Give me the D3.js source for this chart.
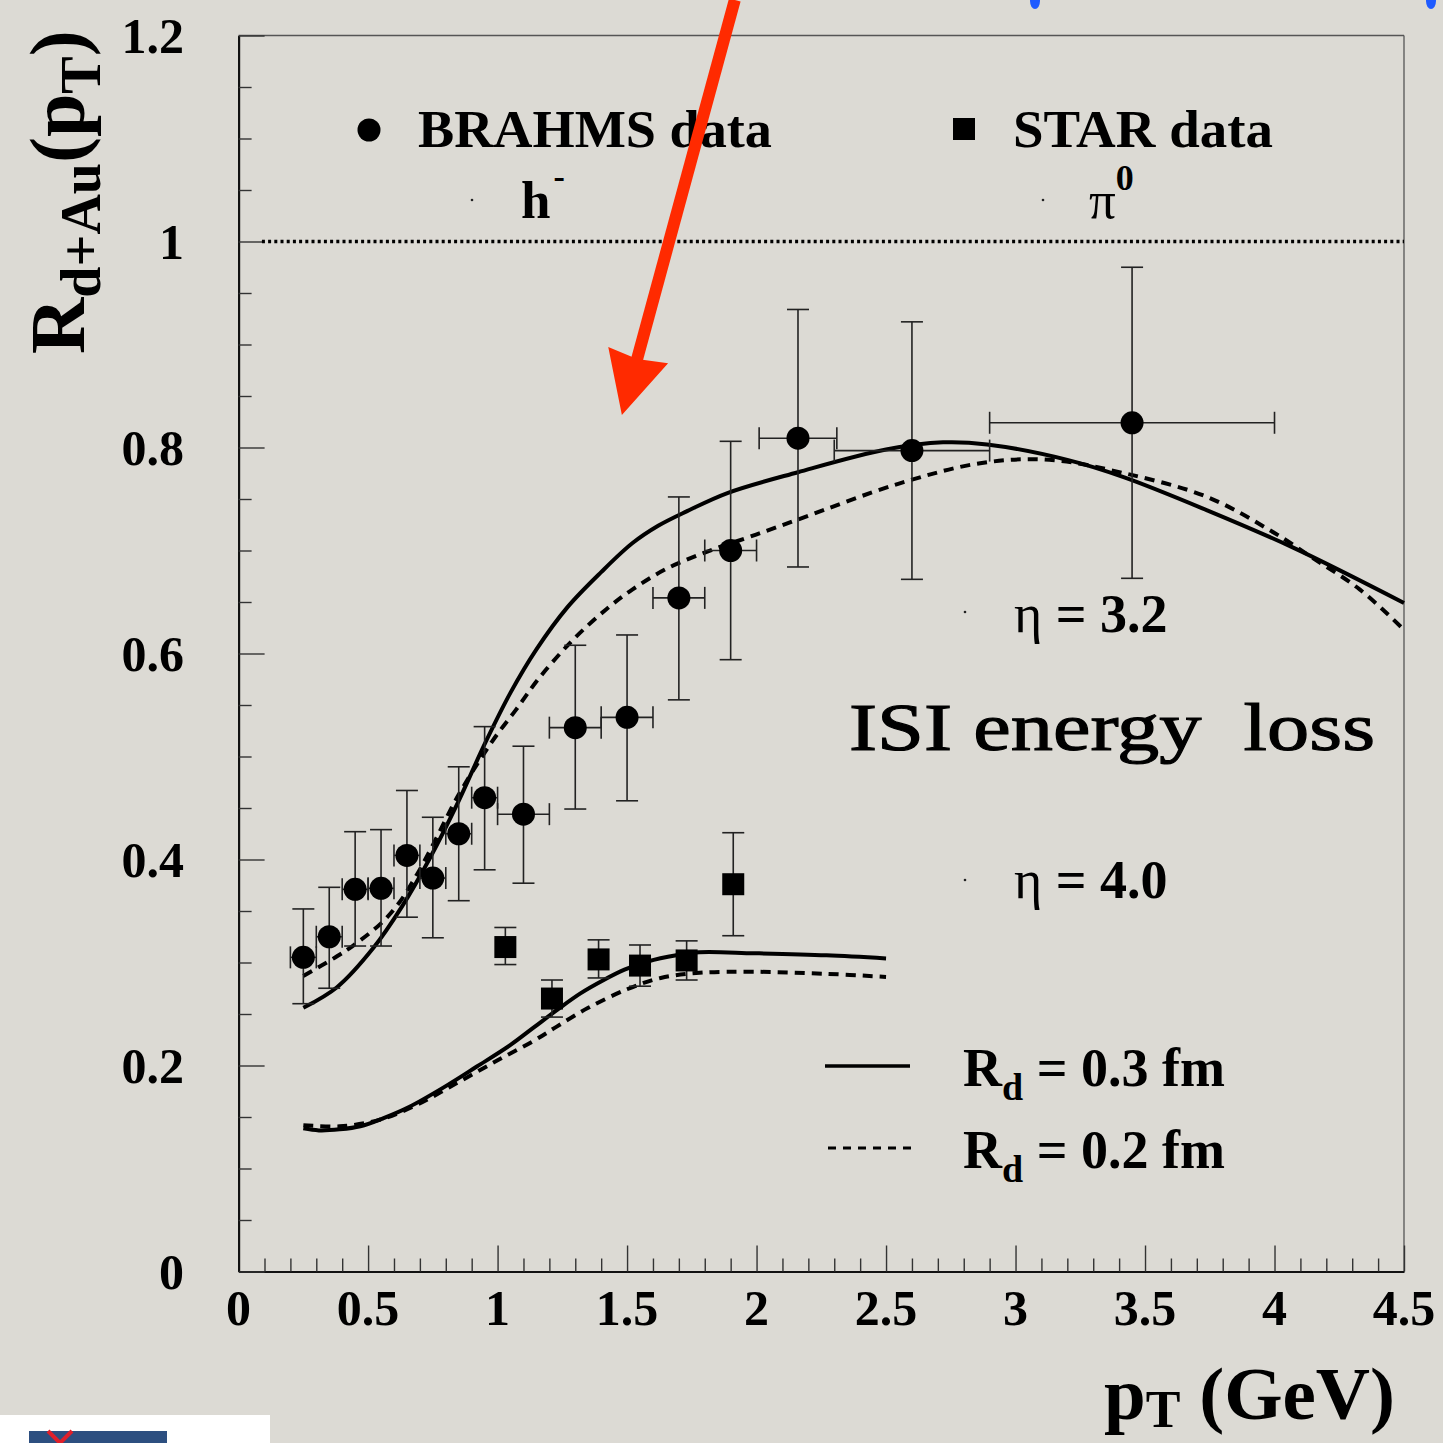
<!DOCTYPE html>
<html><head><meta charset="utf-8">
<script src="https://cdn.jsdelivr.net/npm/d3@7"></script>
<style>html,body{margin:0;padding:0;background:#dcdad4;}svg{display:block;}</style>
</head><body>
<svg id="c" width="1443" height="1443"></svg>
<script>
// ---------- data ----------
const brahmsX   = [0.25,0.35,0.45,0.55,0.65,0.75,0.85,0.95,1.10,1.30,1.50,1.70,1.90,2.16,2.60,3.45];
const brahmsY   = [0.305,0.325,0.371,0.372,0.404,0.382,0.425,0.460,0.444,0.528,0.538,0.654,0.700,0.809,0.797,0.824];
const brahmsYHi = [0.352,0.373,0.427,0.429,0.467,0.441,0.490,0.529,0.510,0.608,0.618,0.752,0.806,0.934,0.922,0.975];
const brahmsYLo = [0.260,0.275,0.316,0.316,0.344,0.324,0.360,0.390,0.377,0.449,0.457,0.555,0.594,0.684,0.672,0.673];
const brahmsXErr= [0.05,0.05,0.05,0.05,0.05,0.05,0.05,0.05,0.10,0.10,0.10,0.10,0.10,0.15,0.30,0.55];

const starX   = [1.03,1.21,1.39,1.55,1.73,1.91];
const starY   = [0.315,0.265,0.303,0.297,0.302,0.376];
const starYHi = [0.334,0.283,0.322,0.317,0.321,0.426];
const starYLo = [0.298,0.247,0.285,0.277,0.283,0.326];

// eta = 3.2, R_d = 0.3 fm (solid) / 0.2 fm (dashed)
const upSolX  = [0.25,0.38,0.52,0.63,0.74,0.85,0.95,1.05,1.15,1.27,1.40,1.52,1.62,1.73,1.89,2.16,2.50,2.72,2.89,3.20,3.42,3.74,4.07,4.50];
const upSolY  = [0.256,0.276,0.314,0.354,0.402,0.457,0.512,0.562,0.604,0.645,0.679,0.707,0.724,0.738,0.756,0.776,0.798,0.805,0.803,0.788,0.771,0.739,0.703,0.649];
const upDashX = [0.25,0.38,0.44,0.55,0.62,0.69,0.75,0.85,0.98,1.07,1.16,1.29,1.42,1.52,1.65,1.81,1.97,2.17,2.55,2.87,3.13,3.42,3.74,4.00,4.14,4.33,4.50];
const upDashY = [0.287,0.306,0.316,0.338,0.358,0.386,0.414,0.463,0.515,0.545,0.576,0.613,0.643,0.662,0.682,0.699,0.713,0.731,0.765,0.785,0.788,0.775,0.752,0.717,0.694,0.662,0.623];
// eta = 4.0
const lowSolX  = [0.25,0.31,0.39,0.47,0.56,0.66,0.80,0.92,1.05,1.14,1.23,1.32,1.41,1.49,1.58,1.69,1.78,1.99,2.27,2.50];
const lowSolY  = [0.139,0.137,0.138,0.141,0.149,0.160,0.180,0.199,0.220,0.237,0.254,0.270,0.283,0.293,0.301,0.307,0.310,0.309,0.307,0.304];
const lowDashX = [0.25,0.39,0.54,0.69,0.85,1.00,1.14,1.23,1.35,1.50,1.63,1.78,1.99,2.27,2.50];
const lowDashY = [0.142,0.141,0.147,0.162,0.184,0.205,0.224,0.238,0.256,0.274,0.285,0.290,0.291,0.289,0.286];

const xTickVals   = [0,0.5,1,1.5,2,2.5,3,3.5,4,4.5];
const xTickLabels = ["0","0.5","1","1.5","2","2.5","3","3.5","4","4.5"];
const yTickVals   = [0,0.2,0.4,0.6,0.8,1.0,1.2];
const yTickLabels = ["0","0.2","0.4","0.6","0.8","1","1.2"];

// ---------- setup ----------
const svg = d3.select("#c");
const FONT = "'Liberation Serif','Times New Roman',serif";
const x = d3.scaleLinear().domain([0,4.5]).range([238.6,1404]);
const y = d3.scaleLinear().domain([0,1.2]).range([1271.5,35.5]);

svg.append("rect").attr("width",1443).attr("height",1443).attr("fill","#dcdad4");

// frame (top/right thin)
svg.append("line").attr("x1",x(0)).attr("x2",x(4.5)).attr("y1",y(1.2)).attr("y2",y(1.2)).attr("stroke","#555").attr("stroke-width",1.3);
svg.append("line").attr("x1",x(4.5)).attr("x2",x(4.5)).attr("y1",y(1.2)).attr("y2",y(0)).attr("stroke","#555").attr("stroke-width",1.3);

// axes
const xAxis = d3.axisBottom(x).tickValues(d3.range(0,4.5001,0.1)).tickSizeInner(-13).tickSizeOuter(0).tickFormat("");
const gx = svg.append("g").attr("transform",`translate(0,${y(0)})`).call(xAxis);
gx.selectAll(".tick line").attr("stroke","#333").attr("stroke-width",1.4)
  .attr("y2",(d)=> (Math.abs(d*2-Math.round(d*2))<1e-6) ? -26 : -13);
gx.select(".domain").attr("stroke","#111").attr("stroke-width",2.2);

const yAxis = d3.axisLeft(y).tickValues(d3.range(0,1.2001,0.05)).tickSizeInner(-13).tickSizeOuter(0).tickFormat("");
const gy = svg.append("g").attr("transform",`translate(${x(0)},0)`).call(yAxis);
gy.selectAll(".tick line").attr("stroke","#333").attr("stroke-width",1.4)
  .attr("x2",(d)=> (Math.abs(d*5-Math.round(d*5))<1e-6) ? 26 : 13);
gy.select(".domain").attr("stroke","#111").attr("stroke-width",2.2);

// tick labels
svg.append("g").selectAll("text").data(xTickVals).join("text")
  .attr("x",d=>x(d)).attr("y",y(0)+53).attr("text-anchor","middle")
  .attr("font-family",FONT).attr("font-weight","bold").attr("font-size",50).attr("fill","#000")
  .text((d,i)=>xTickLabels[i]);
svg.append("g").selectAll("text").data(yTickVals).join("text")
  .attr("x",184).attr("y",d=>y(d)+17).attr("text-anchor","end")
  .attr("font-family",FONT).attr("font-weight","bold").attr("font-size",50).attr("fill","#000")
  .text((d,i)=>yTickLabels[i]);

// dotted line at 1
svg.append("line").attr("x1",x(0.09)).attr("x2",x(4.5)).attr("y1",y(1)).attr("y2",y(1))
  .attr("stroke","#000").attr("stroke-width",3.4).attr("stroke-dasharray","3,3.2");

// curves
const line = d3.line().x(d=>x(d[0])).y(d=>y(d[1])).curve(d3.curveCatmullRom.alpha(0.5));
function curve(xs,ys,dashed){
  svg.append("path").attr("d",line(xs.map((v,i)=>[v,ys[i]])))
    .attr("fill","none").attr("stroke","#000").attr("stroke-width",4)
    .attr("stroke-dasharray",dashed?"10,7":null);
}
curve(upSolX,upSolY,false);
curve(upDashX,upDashY,true);
curve(lowSolX,lowSolY,false);
curve(lowDashX,lowDashY,true);

// error bars
const eb = svg.append("g").attr("stroke","#222").attr("stroke-width",1.6);
brahmsX.forEach((xv,i)=>{
  const cx=x(xv), cy=y(brahmsY[i]);
  eb.append("line").attr("x1",cx).attr("x2",cx).attr("y1",y(brahmsYHi[i])).attr("y2",y(brahmsYLo[i]));
  [brahmsYHi[i],brahmsYLo[i]].forEach(v=>eb.append("line").attr("x1",cx-11).attr("x2",cx+11).attr("y1",y(v)).attr("y2",y(v)));
  const xl=x(xv-brahmsXErr[i]), xr=x(xv+brahmsXErr[i]);
  eb.append("line").attr("x1",xl).attr("x2",xr).attr("y1",cy).attr("y2",cy);
  [xl,xr].forEach(p=>eb.append("line").attr("x1",p).attr("x2",p).attr("y1",cy-11).attr("y2",cy+11));
});
starX.forEach((xv,i)=>{
  const cx=x(xv);
  eb.append("line").attr("x1",cx).attr("x2",cx).attr("y1",y(starYHi[i])).attr("y2",y(starYLo[i]));
  [starYHi[i],starYLo[i]].forEach(v=>eb.append("line").attr("x1",cx-11).attr("x2",cx+11).attr("y1",y(v)).attr("y2",y(v)));
});

// markers
svg.append("g").selectAll("circle").data(brahmsX).join("circle")
  .attr("cx",d=>x(d)).attr("cy",(d,i)=>y(brahmsY[i])).attr("r",11.5).attr("fill","#000");
svg.append("g").selectAll("rect").data(starX).join("rect")
  .attr("x",d=>x(d)-11).attr("y",(d,i)=>y(starY[i])-11).attr("width",22).attr("height",22).attr("fill","#000");

// legend / annotations
function txt(xp,yp,size,weight){
  return svg.append("text").attr("x",xp).attr("y",yp).attr("font-family",FONT)
    .attr("font-size",size).attr("font-weight",weight||"bold").attr("fill","#000");
}
svg.append("circle").attr("cx",369).attr("cy",130).attr("r",11.5).attr("fill","#000");
txt(418,147,53).attr("textLength",354).attr("lengthAdjust","spacingAndGlyphs").text("BRAHMS data");
svg.append("rect").attr("x",953).attr("y",118).attr("width",22).attr("height",22).attr("fill","#000");
txt(1013,147,53).attr("textLength",260).attr("lengthAdjust","spacingAndGlyphs").text("STAR data");

const hm = txt(521,218,53);
hm.append("tspan").text("h");
hm.append("tspan").attr("dx",3).attr("dy",-30).attr("font-size",34).text("-");
const pi0 = txt(1089,218,53,"normal");
pi0.append("tspan").text("π");
pi0.append("tspan").attr("dy",-28).attr("font-size",36).attr("font-weight","bold").text("0");
[[472,200],[1043,200],[965,612],[965,880]].forEach(p=>svg.append("circle").attr("cx",p[0]).attr("cy",p[1]).attr("r",1.3).attr("fill","#222"));

const e1 = txt(1014,632,54);
e1.append("tspan").attr("font-weight","normal").text("η");
e1.append("tspan").text(" = 3.2");
const e2 = txt(1014,898,54);
e2.append("tspan").attr("font-weight","normal").text("η");
e2.append("tspan").text(" = 4.0");

txt(849,750,68,"normal").attr("stroke","#000").attr("stroke-width",1.1)
  .attr("textLength",526).attr("lengthAdjust","spacingAndGlyphs").attr("xml:space","preserve")
  .text("ISI energy  loss");

svg.append("line").attr("x1",825).attr("x2",910).attr("y1",1066).attr("y2",1066).attr("stroke","#000").attr("stroke-width",3.5);
svg.append("line").attr("x1",828).attr("x2",912).attr("y1",1148).attr("y2",1148).attr("stroke","#000").attr("stroke-width",3).attr("stroke-dasharray","8,7");
function rd(yp,val){
  const t = txt(963,yp,54);
  t.append("tspan").text("R");
  t.append("tspan").attr("dy",14).attr("font-size",38).text("d");
  t.append("tspan").attr("dy",-14).text(" = "+val+" fm");
}
rd(1086,"0.3");
rd(1168,"0.2");

// axis titles
const yt = svg.append("text").attr("transform","translate(84,354) rotate(-90)")
  .attr("font-family",FONT).attr("font-weight","bold").attr("font-size",78).attr("fill","#000");
yt.append("tspan").text("R");
yt.append("tspan").attr("dy",16).attr("font-size",56).text("d+Au");
yt.append("tspan").attr("dy",-16).text("(p");
yt.append("tspan").attr("dy",16).attr("font-size",56).text("T");
yt.append("tspan").attr("dy",-16).text(")");

const xt = txt(1104,1419,75);
xt.append("tspan").text("p");
xt.append("tspan").attr("dy",8).attr("font-size",52).text("T");
xt.append("tspan").attr("dy",-8).text(" (GeV)");

// red arrow (in data coordinates)
const aS = [x(1.916), y(1.2345)], aT = [x(1.48), y(0.8316)];
const dx = aT[0]-aS[0], dy = aT[1]-aS[1], L = Math.hypot(dx,dy);
const ux = dx/L, uy = dy/L, nx = -uy, ny = ux;
const hb = [aT[0]-62*ux, aT[1]-62*uy];
svg.append("line").attr("x1",aS[0]).attr("y1",aS[1]).attr("x2",hb[0]+8*ux).attr("y2",hb[1]+8*uy)
  .attr("stroke","#ff2a00").attr("stroke-width",12);
svg.append("path").attr("d",`M${aT[0]},${aT[1]}L${hb[0]+31*nx},${hb[1]+31*ny}L${hb[0]+4*ux},${hb[1]+4*uy}L${hb[0]-31*nx},${hb[1]-31*ny}Z`)
  .attr("fill","#ff2a00");

// blue marks at top edge
[1035,1431].forEach(px=>svg.append("ellipse").attr("cx",px).attr("cy",1).attr("rx",5).attr("ry",8).attr("fill","#1f5bff"));

// bottom-left logo patch
svg.append("rect").attr("x",0).attr("y",1415).attr("width",270).attr("height",28).attr("fill","#ffffff");
svg.append("rect").attr("x",29).attr("y",1431).attr("width",138).attr("height",12).attr("fill","#2d4f80");
svg.append("path").attr("d","M48,1431L60,1443M72,1431L60,1443").attr("stroke","#e0202a").attr("stroke-width",4);
</script>
</body></html>
